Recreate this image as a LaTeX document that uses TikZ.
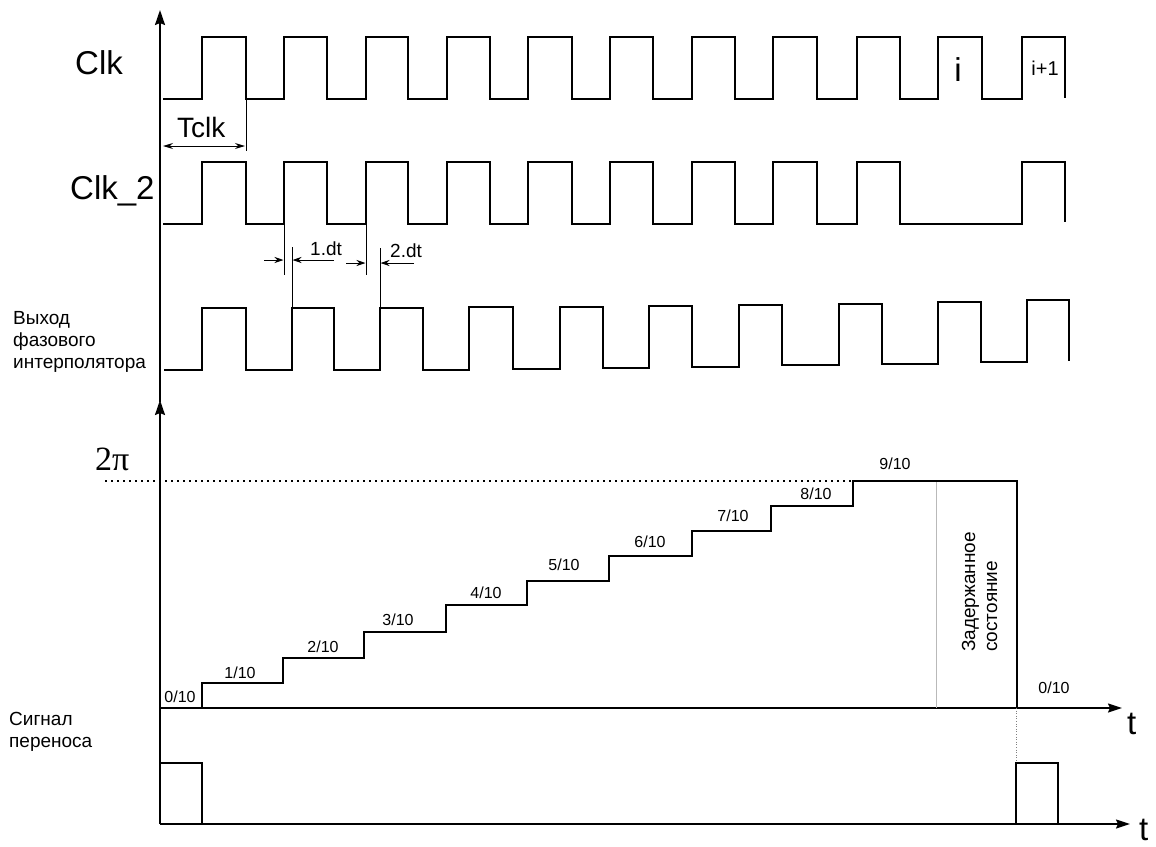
\documentclass[tikz,border=0pt]{standalone}
\usepackage{fontspec}
\setmainfont{Liberation Sans}
\newfontfamily\pifont{Liberation Serif}
\usetikzlibrary{arrows.meta}

\tikzset{
  axis/.style={line width=2pt, -{Stealth[length=15pt,width=10pt,inset=2pt]}},
  taxis/.style={line width=1.6pt, -{Stealth[length=14pt,width=9pt,inset=2pt]}},
  wave/.style={line width=1.3pt},
  stair/.style={line width=2pt},
  guide/.style={line width=0.9pt},
  dimarrow/.style={line width=1pt, {Stealth[length=10pt,width=6pt]}-{Stealth[length=10pt,width=6pt]}},
  dtarrow/.style={line width=1pt, -{Stealth[length=9pt,width=6pt]}},
  big/.style={font=\fontsize{33pt}{36pt}\selectfont, inner sep=0pt},
  note/.style={font=\fontsize{19pt}{22pt}\selectfont, inner sep=0pt, align=left},
  fraclbl/.style={font=\fontsize{16pt}{18pt}\selectfont, inner sep=0pt, anchor=base},
}

\begin{document}
\begin{tikzpicture}[x=1pt, y=-1pt]
\useasboundingbox (0,0) rectangle (1156,846);

% axes
\draw[axis] (160,824) -- (160,400);
\draw[axis] (160,402) -- (160,10);
\draw[taxis] (160,708) -- (1122,708);
\draw[taxis] (160,824) -- (1130,824);
\node[big, anchor=base west] (tphase) at (1127,734) {t};
\node[big, anchor=base west] (tcarry) at (1139,840) {t};

% Clk
\node[big, anchor=base west] (clk) at (75,74) {Clk};
\draw[wave] (163,99) -- (202,99) -- (202,37) -- (246,37) -- (246,99) -- (284,99) -- (284,37)
  -- (327,37) -- (327,99) -- (366,99) -- (366,37) -- (408,37) -- (408,99) -- (447,99) -- (447,37)
  -- (490,37) -- (490,99) -- (528,99) -- (528,37) -- (572,37) -- (572,99) -- (610,99) -- (610,37)
  -- (653,37) -- (653,99) -- (692,99) -- (692,37) -- (735,37) -- (735,99) -- (773,99) -- (773,37)
  -- (817,37) -- (817,99) -- (857,99) -- (857,37) -- (900,37) -- (900,99) -- (938,99) -- (938,37)
  -- (982,37) -- (982,99) -- (1022,99) -- (1022,37) -- (1065,37) -- (1065,98);
\node[big, anchor=base] (idx) at (958,81) {i};
\node[font=\fontsize{20pt}{22pt}\selectfont, inner sep=0pt, anchor=base] (idxnext) at (1045,75) {i+1};

% Tclk
\coordinate (tclkL) at (163,146);
\coordinate (tclkR) at (245,146);
\draw[guide] (246,99) -- (246,151);
\draw[dimarrow] (tclkL) -- (tclkR);
\node[font=\fontsize{28pt}{30pt}\selectfont, inner sep=0pt, anchor=base west] (tclk) at (177,137) {Tclk};

% Clk_2
\node[big, anchor=base west] (clkb) at (70,199) {Clk\_2};
\draw[wave] (163,224) -- (202,224) -- (202,162) -- (246,162) -- (246,224) -- (284,224) -- (284,162)
  -- (327,162) -- (327,224) -- (366,224) -- (366,162) -- (408,162) -- (408,224) -- (447,224) -- (447,162)
  -- (490,162) -- (490,224) -- (528,224) -- (528,162) -- (572,162) -- (572,224) -- (610,224) -- (610,162)
  -- (653,162) -- (653,224) -- (692,224) -- (692,162) -- (735,162) -- (735,224) -- (773,224) -- (773,162)
  -- (817,162) -- (817,224) -- (857,224) -- (857,162) -- (900,162) -- (900,224) -- (1022,224) -- (1022,162)
  -- (1065,162) -- (1065,222);

% dt marks
\draw[guide] (284,224) -- (284,275);
\draw[guide] (366,224) -- (366,275);
\draw[guide] (292,308) -- (292,247);
\draw[guide] (380,308) -- (380,248);
\coordinate (dtoneA) at (264,260);
\coordinate (dtoneB) at (334,260);
\coordinate (dttwoA) at (346,263);
\coordinate (dttwoB) at (414,263);
\draw[dtarrow] (dtoneA) -- (283.5,260);
\draw[dtarrow] (dtoneB) -- (292.5,260);
\draw[dtarrow] (dttwoA) -- (365.5,263);
\draw[dtarrow] (dttwoB) -- (380.5,263);
\node[note, anchor=base west] (dtone) at (310,255) {1.dt};
\node[note, anchor=base west] (dttwo) at (390,257) {2.dt};

% phase interpolator output
\node[note, anchor=base west] (phaseout) at (13,368) {Выход\\фазового\\интерполятора};
\draw[wave] (164,370) -- (202,370) -- (202,308) -- (246,308) -- (246,370) -- (292,370) -- (292,308)
  -- (334,308) -- (334,370) -- (380,370) -- (380,308) -- (423,308) -- (423,370) -- (469,370) -- (469,307)
  -- (513,307) -- (513,369) -- (560,369) -- (560,307) -- (603,307) -- (603,368) -- (649,368) -- (649,306)
  -- (692,306) -- (692,367) -- (739,367) -- (739,305) -- (782,305) -- (782,365) -- (839,365) -- (839,304)
  -- (882,304) -- (882,364) -- (938,364) -- (938,302) -- (981,302) -- (981,362) -- (1027,362) -- (1027,300)
  -- (1069,300) -- (1069,361);

% phase staircase
\node[font=\pifont\fontsize{34pt}{36pt}\selectfont, inner sep=0pt, anchor=base west] (twopi) at (95,470) {2π};
\draw[line width=2pt, dash pattern=on 2.4pt off 3.6pt] (105,481) -- (852,481);
\draw[gray!55, line width=0.7pt] (936,481) -- (936,708);
\draw[stair] (202,708) -- (202,683) -- (283,683) -- (283,658) -- (364,658) -- (364,632) -- (446,632)
  -- (446,605) -- (527,605) -- (527,581) -- (609,581) -- (609,556) -- (692,556) -- (692,531)
  -- (771,531) -- (771,506) -- (853,506) -- (853,481) -- (1017,481) -- (1017,708);
\node[fraclbl] (frac0) at (180,702) {0/10};
\node[fraclbl] (frac1) at (240,678) {1/10};
\node[fraclbl] (frac2) at (323,652) {2/10};
\node[fraclbl] (frac3) at (398,625) {3/10};
\node[fraclbl] (frac4) at (486,598) {4/10};
\node[fraclbl] (frac5) at (564,570) {5/10};
\node[fraclbl] (frac6) at (650,547) {6/10};
\node[fraclbl] (frac7) at (733,521) {7/10};
\node[fraclbl] (frac8) at (816,499) {8/10};
\node[fraclbl] (frac9) at (895,469) {9/10};
\node[fraclbl] (fracend) at (1054,693) {0/10};
\node[note, rotate=90, anchor=base west] (hold) at (997,652) {Задержанное\\состояние};

% carry signal
\node[note, anchor=base west] (carry) at (9,747) {Сигнал\\переноса};
\draw[wave, line width=1.6pt] (160,763) -- (202,763) -- (202,824);
\draw[gray, line width=0.6pt, dotted] (1016,708) -- (1016,763);
\draw[wave, line width=1.6pt] (1016,824) -- (1016,763) -- (1058,763) -- (1058,824);
\end{tikzpicture}
\end{document}
